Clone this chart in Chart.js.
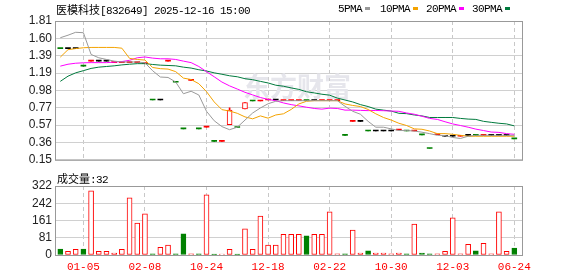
<!DOCTYPE html>
<html>
<head>
<meta charset="utf-8">
<script src="https://cdn.jsdelivr.net/npm/chart.js@4.4.1/dist/chart.umd.min.js"></script>
<style>
  body { margin: 0; background: #fff; }
  #wrap { position: relative; width: 578px; height: 276px; overflow: hidden; }
  canvas { position: absolute; left: 0; }
  .txt { position: absolute; white-space: nowrap; color: #000; line-height: 12px; }
  .cn { font: 11px/12px "Noto Sans CJK SC"; }
  .en { font: 11px/12px "Liberation Mono"; letter-spacing: -0.6px; }
  .lg i { display: inline-block; width: 5px; height: 3px; margin-left: 3px; vertical-align: 2px; }
</style>
</head>
<body>
<div id="wrap">
  <canvas id="price" width="578" height="170" style="top:0"></canvas>
  <canvas id="vol" width="578" height="106" style="top:170px"></canvas>
  <div class="txt" style="left:56px;top:3px"><span class="cn">医模科技</span><span class="en">[832649] 2025-12-16 15:00</span></div>
  <div class="txt en lg" style="left:338px;top:3px">5PMA<i style="background:#999"></i></div>
  <div class="txt en lg" style="left:380px;top:3px">10PMA<i style="background:#f4a300"></i></div>
  <div class="txt en lg" style="left:426px;top:3px">20PMA<i style="background:#ff00ff"></i></div>
  <div class="txt en lg" style="left:472px;top:3px">30PMA<i style="background:#007a3d"></i></div>
  <div class="txt" style="left:57px;top:172px"><span class="cn">成交量</span><span class="en">:32</span></div>
</div>
<script>
// x positions of the date labels (bar index) and their text
const tickPos = [3, 11, 19, 27, 35, 43, 51, 59];
const tickLabels = ['01-05', '02-08', '10-24', '12-18', '02-22', '10-30', '12-03', '06-24'];

const priceTicks = [0.15, 0.3575, 0.565, 0.7725, 0.98, 1.1875, 1.395, 1.6025, 1.81];
const priceTickLabels = ['0.15', '0.36', '0.57', '0.77', '0.98', '1.19', '1.39', '1.60', '1.81'];
const volTicks = [0, 80.5, 161, 241.5, 322];
const volTickLabels = ['0', '81', '161', '242', '322'];

// daily candles
const opens = [1.48, 1.48, 1.48, 1.27, 1.33, 1.33, 1.33, 1.312, 1.312, 1.312,
  1.312, 1.30, 0.865, 0.865, 1.33, 1.077, 0.52, 1.10, 0.52, 0.54,
  0.37, 0.37, 0.57, 0.536, 0.76, 0.853, 0.853, 0.865, 0.865, 0.857,
  0.857, 0.857, 0.857, 0.857, 0.857, 0.857, 0.857, 0.443, 0.61, 0.61,
  0.494, 0.494, 0.494, 0.494, 0.506, 0.494, 0.494, 0.448, 0.285, 0.45,
  0.432, 0.432, 0.432, 0.443, 0.443, 0.443, 0.443, 0.443, 0.443, 0.40];
const closes = [1.48, 1.48, 1.48, 1.27, 1.33, 1.33, 1.33, 1.312, 1.312, 1.312,
  1.312, 1.30, 0.865, 0.865, 1.33, 1.077, 0.52, 1.10, 0.52, 0.54,
  0.37, 0.37, 0.744, 0.536, 0.833, 0.853, 0.853, 0.865, 0.865, 0.857,
  0.857, 0.857, 0.857, 0.857, 0.857, 0.857, 0.857, 0.443, 0.61, 0.61,
  0.494, 0.494, 0.494, 0.494, 0.506, 0.494, 0.494, 0.448, 0.285, 0.45,
  0.432, 0.432, 0.432, 0.443, 0.443, 0.443, 0.443, 0.443, 0.443, 0.40];
const highs = [1.48, 1.48, 1.48, 1.27, 1.33, 1.33, 1.33, 1.312, 1.312, 1.312,
  1.312, 1.30, 0.865, 0.865, 1.33, 1.077, 0.52, 1.10, 0.52, 0.54,
  0.37, 0.37, 0.772, 0.536, 0.833, 0.853, 0.853, 0.865, 0.865, 0.857,
  0.857, 0.857, 0.857, 0.857, 0.857, 0.857, 0.857, 0.443, 0.61, 0.61,
  0.494, 0.494, 0.494, 0.494, 0.506, 0.494, 0.494, 0.448, 0.285, 0.45,
  0.432, 0.432, 0.432, 0.443, 0.443, 0.443, 0.443, 0.443, 0.443, 0.40];
const lows = [1.48, 1.48, 1.48, 1.27, 1.33, 1.33, 1.33, 1.312, 1.312, 1.312,
  1.312, 1.30, 0.865, 0.865, 1.33, 1.077, 0.52, 1.10, 0.52, 0.54,
  0.37, 0.37, 0.57, 0.536, 0.76, 0.853, 0.853, 0.865, 0.865, 0.857,
  0.857, 0.857, 0.857, 0.857, 0.857, 0.857, 0.857, 0.443, 0.61, 0.61,
  0.494, 0.494, 0.494, 0.494, 0.506, 0.494, 0.494, 0.448, 0.285, 0.45,
  0.432, 0.432, 0.432, 0.443, 0.443, 0.443, 0.443, 0.443, 0.443, 0.40];
// r = up, g = down, k = unchanged
const dirs = 'gkkgrkkrrr' + 'rrgkrggrgr' + 'grrgrgrrkr' + 'rrgkrrrgrk' + 'gkkkrgrggr' + 'kkrkgrkkkg';

const volumes = [28, 17, 27, 28, 300, 17, 17, 9, 27, 267,
  149, 192, 5, 36, 46, 5, 99, 5, 5, 281,
  4, 4, 27, 4, 122, 27, 182, 46, 46, 97,
  97, 97, 89, 97, 97, 201, 5, 5, 116, 9,
  19, 9, 9, 5, 9, 5, 144, 9, 5, 5,
  17, 173, 5, 50, 19, 55, 5, 201, 17, 32];
const volDirs = 'grrgrrrrrr' + 'rrgrrggrgr' + 'grrgrrrrrr' + 'rrgrrrrgrr' + 'grrrrgrggr' + 'rrrrgrrrrg';

const ma5 = [1.61, 1.64, 1.675, 1.67, 1.41, 1.37, 1.35, 1.33, 1.32, 1.32,
  1.32, 1.31, 1.215, 1.14, 1.135, 1.08, 0.94, 0.97, 0.925, 0.73,
  0.617, 0.547, 0.51, 0.54, 0.625, 0.71, 0.77, 0.82, 0.85, 0.857,
  0.857, 0.857, 0.857, 0.857, 0.857, 0.857, 0.857, 0.79, 0.73, 0.695,
  0.61, 0.54, 0.54, 0.52, 0.50, 0.50, 0.494, 0.48, 0.463, 0.443,
  0.44, 0.417, 0.405, 0.432, 0.443, 0.443, 0.443, 0.443, 0.443, 0.443];
const ma10 = [1.378, 1.467, 1.48, 1.49, 1.494, 1.494, 1.494, 1.494, 1.485, 1.363,
  1.35, 1.343, 1.254, 1.24, 1.235, 1.204, 1.127, 1.11, 1.06, 0.965,
  0.842, 0.75, 0.733, 0.706, 0.663, 0.64, 0.675, 0.648, 0.686, 0.70,
  0.752, 0.818, 0.85, 0.857, 0.857, 0.857, 0.857, 0.818, 0.80, 0.787,
  0.752, 0.70, 0.656, 0.625, 0.587, 0.56, 0.52, 0.515, 0.494, 0.463,
  0.463, 0.455, 0.443, 0.432, 0.432, 0.432, 0.432, 0.432, 0.432, 0.432];
const ma20 = [1.27, 1.293, 1.305, 1.31, 1.312, 1.312, 1.312, 1.318, 1.325, 1.34,
  1.37, 1.38, 1.366, 1.358, 1.358, 1.35, 1.33, 1.312, 1.266, 1.204,
  1.143, 1.08, 1.034, 0.996, 0.957, 0.926, 0.895, 0.872, 0.857, 0.83,
  0.81, 0.795, 0.779, 0.764, 0.756, 0.768, 0.764, 0.744, 0.744, 0.741,
  0.738, 0.74, 0.737, 0.733, 0.73, 0.71, 0.695, 0.671, 0.645, 0.633,
  0.605, 0.579, 0.56, 0.54, 0.517, 0.50, 0.482, 0.478, 0.463, 0.455];
const ma30 = [1.088, 1.15, 1.19, 1.216, 1.243, 1.258, 1.266, 1.274, 1.285, 1.293,
  1.30, 1.30, 1.29, 1.282, 1.278, 1.274, 1.258, 1.247, 1.227, 1.212,
  1.19, 1.173, 1.155, 1.143, 1.12, 1.108, 1.088, 1.069, 1.042, 1.03,
  1.01, 0.992, 0.964, 0.95, 0.934, 0.923, 0.888, 0.865, 0.842, 0.81,
  0.787, 0.756, 0.744, 0.733, 0.706, 0.702, 0.686, 0.675, 0.656, 0.656,
  0.656, 0.656, 0.645, 0.637, 0.633, 0.61, 0.598, 0.587, 0.579, 0.556];

const RED = '#ff0000', GREEN = '#008000', BLACK = '#000000';
function dirColor(d) {
  return d === 'g' ? GREEN : (d === 'k' ? BLACK : RED);
}
function pts(arr) {
  return arr.map((v, i) => ({ x: i, y: v }));
}

const framePlugin = {
  id: 'frame',
  afterDraw(chart) {
    const { ctx, chartArea: a } = chart;
    ctx.save();
    ctx.strokeStyle = '#999';
    ctx.lineWidth = 1;
    ctx.strokeRect(a.left + 0.5, a.top + 0.5, a.right - a.left, a.bottom - a.top);
    ctx.restore();
  }
};

const watermark = {
  id: 'watermark',
  beforeDatasetsDraw(chart) {
    const { ctx, chartArea: a } = chart;
    ctx.save();
    ctx.font = 'bold 27px "Noto Sans CJK SC"';
    ctx.fillStyle = '#e6e6ec';
    ctx.textBaseline = 'middle';
    ctx.fillText('东方财富', a.left + 188, a.top + 66);
    ctx.restore();
  }
};

function xAxis(showLabels) {
  return {
    type: 'linear',
    min: -0.69,
    max: 60,
    offset: false,
    afterBuildTicks: s => { s.ticks = tickPos.map(v => ({ value: v })); },
    afterFit: s => { s.height = showLabels ? 21 : 0; },
    grid: { color: '#c8c8c8', drawTicks: false, offset: false },
    border: { display: false, dash: [4, 3] },
    ticks: {
      display: showLabels,
      autoSkip: false,
      maxRotation: 0,
      padding: 5,
      color: RED,
      font: { family: 'Liberation Mono', size: 11 },
      callback: v => tickLabels[tickPos.indexOf(v)]
    }
  };
}

function yAxis(min, max, values, labels) {
  return {
    min: min,
    max: max,
    afterBuildTicks: s => { s.ticks = values.map(v => ({ value: v })); },
    afterFit: s => { s.width = 55; },
    grid: { color: '#d0d0d0', drawTicks: false },
    border: { display: false },
    ticks: {
      autoSkip: false,
      padding: 3,
      color: '#222',
      font: { family: 'Liberation Sans', size: 12 },
      callback: (v, i) => labels[i]
    }
  };
}

new Chart(document.getElementById('price').getContext('2d'), {
  type: 'bar',
  data: {
    datasets: [
      { type: 'line', label: '5PMA', data: pts(ma5), borderColor: '#999999', borderWidth: 1, pointRadius: 0, order: 0 },
      { type: 'line', label: '10PMA', data: pts(ma10), borderColor: '#f4a300', borderWidth: 1, pointRadius: 0, order: 0 },
      { type: 'line', label: '20PMA', data: pts(ma20), borderColor: '#ff00ff', borderWidth: 1, pointRadius: 0, order: 0 },
      { type: 'line', label: '30PMA', data: pts(ma30), borderColor: '#007a3d', borderWidth: 1, pointRadius: 0, order: 0 },
      {
        label: 'body',
        data: opens.map((o, i) => ({ x: i, y: [o, closes[i]] })),
        grouped: false,
        barThickness: 5,
        minBarLength: 1,
        borderSkipped: false,
        borderWidth: c => (opens[c.dataIndex] !== closes[c.dataIndex] ? 1 : 0),
        borderColor: c => dirColor(dirs[c.dataIndex]),
        backgroundColor: c => (opens[c.dataIndex] !== closes[c.dataIndex] && dirs[c.dataIndex] === 'r')
          ? '#ffffff' : dirColor(dirs[c.dataIndex]),
        order: 1
      },
      {
        label: 'wick',
        data: lows.map((l, i) => ({ x: i, y: [l, highs[i]] })),
        grouped: false,
        barThickness: 1,
        borderWidth: 0,
        backgroundColor: c => dirColor(dirs[c.dataIndex]),
        order: 2
      }
    ]
  },
  options: {
    responsive: false,
    animation: false,
    layout: { padding: { left: 0, right: 56, top: 21, bottom: 5 } },
    scales: {
      x: xAxis(false),
      y: yAxis(0.15, 1.81, priceTicks, priceTickLabels)
    },
    plugins: { legend: { display: false }, tooltip: { enabled: false } }
  },
  plugins: [watermark, framePlugin]
});

new Chart(document.getElementById('vol').getContext('2d'), {
  type: 'bar',
  data: {
    datasets: [{
      label: '成交量',
      data: pts(volumes),
      barThickness: 5,
      borderWidth: 1,
      borderSkipped: false,
      borderColor: c => (volDirs[c.dataIndex] === 'g' ? GREEN : RED),
      backgroundColor: c => (volDirs[c.dataIndex] === 'g' ? GREEN : '#ffffff')
    }]
  },
  options: {
    responsive: false,
    animation: false,
    layout: { padding: { left: 0, right: 56, top: 16, bottom: 0 } },
    scales: {
      x: xAxis(true),
      y: yAxis(0, 322, volTicks, volTickLabels)
    },
    plugins: { legend: { display: false }, tooltip: { enabled: false } }
  },
  plugins: [framePlugin]
});
</script>
</body>
</html>
